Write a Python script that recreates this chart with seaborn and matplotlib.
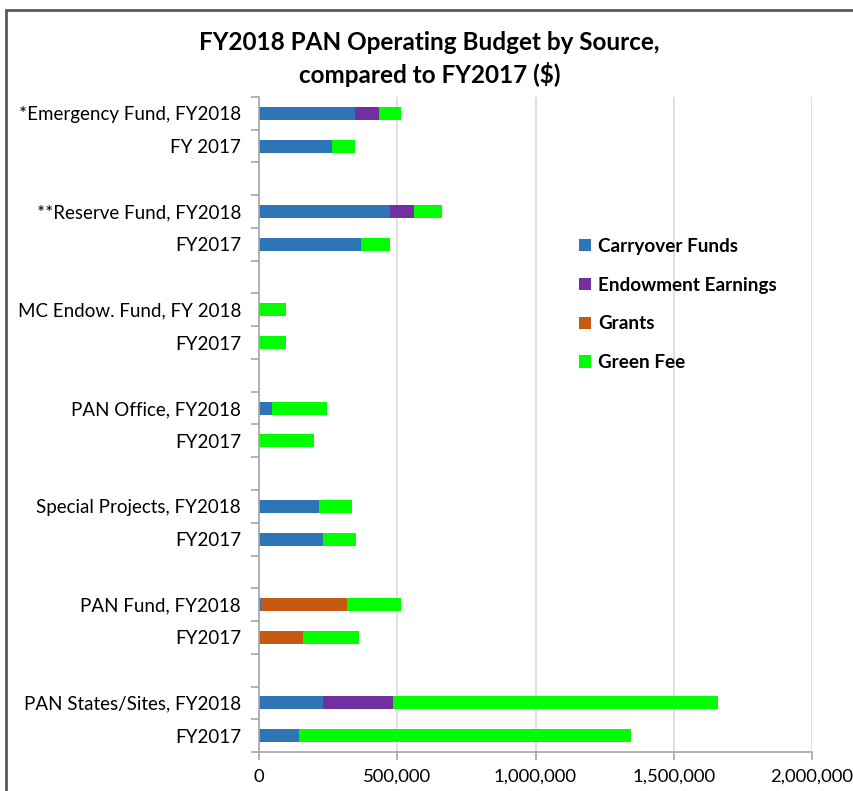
import pandas as pd
import matplotlib
matplotlib.use("Agg")
import matplotlib.pyplot as plt
from matplotlib.patches import Patch, Rectangle
from matplotlib.ticker import FuncFormatter, FixedLocator
import seaborn as sns

# Dados (valores em $)
slots = ["emerg18", "emerg17", "gap1", "res18", "res17", "gap2", "mc18", "mc17", "gap3",
         "off18", "off17", "gap4", "sp18", "sp17", "gap5", "fund18", "fund17", "gap6",
         "st18", "st17"]
y_labels = ["*Emergency Fund, FY2018", "FY 2017", "", "**Reserve Fund, FY2018", "FY2017", "",
            "MC Endow. Fund, FY 2018", "FY2017", "", "PAN Office, FY2018", "FY2017", "",
            "Special Projects, FY2018", "FY2017", "", "PAN Fund, FY2018", "FY2017", "",
            "PAN States/Sites, FY2018", "FY2017"]
bars = ["emerg18", "emerg17", "res18", "res17", "mc18", "mc17", "off18", "off17",
        "sp18", "sp17", "fund18", "fund17", "st18", "st17"]
carryover = [346000, 265000, 473000, 370000, 0, 0, 48000, 0, 218000, 230000, 8000, 0, 230000, 146000]
endowment = [89000, 0, 89000, 0, 0, 0, 0, 0, 0, 0, 0, 0, 255000, 0]
grants = [0, 0, 0, 0, 0, 0, 0, 0, 0, 0, 309000, 160000, 0, 0]
green_fee = [80000, 81000, 99000, 102000, 96000, 99000, 197000, 198000, 120000, 120000, 196000, 200000, 1174000, 1201000]

sources = ["Carryover Funds", "Endowment Earnings", "Grants", "Green Fee"]
cores = ["#2E75B6", "#7030A0", "#C55A11", "#00FF00"]

df = pd.DataFrame({"linha": bars, "Carryover Funds": carryover, "Endowment Earnings": endowment,
                   "Grants": grants, "Green Fee": green_fee}).set_index("linha")
acumulado = df[sources].cumsum(axis=1)

sns.set_style("white")
plt.rcParams["font.family"] = ["Lato", "DejaVu Sans"]
plt.rcParams["text.color"] = "black"

fig = plt.figure(figsize=(8.54, 7.91), dpi=100)
ax = fig.add_axes([259 / 854, 1 - 752 / 791, (812 - 259) / 854, (752 - 97) / 791])

# empilhado: desenha do total para a primeira camada
for fonte, cor in reversed(list(zip(sources, cores))):
    dados = acumulado[fonte].reset_index().rename(columns={fonte: "valor"})
    sns.barplot(data=dados, y="linha", x="valor", order=slots, orient="h", color=cor,
                width=0.4, saturation=1, edgecolor="none", linewidth=0, ax=ax, errorbar=None)

ax.set_xlim(0, 2000000)
ax.set_ylim(len(slots) - 0.5, -0.5)
ax.set_xticks([0, 500000, 1000000, 1500000, 2000000])
ax.xaxis.set_major_formatter(FuncFormatter(lambda v, p: f"{int(v):,}"))
ax.set_yticks(range(len(slots)))
ax.set_yticklabels(y_labels)
ax.yaxis.set_minor_locator(FixedLocator([i - 0.5 for i in range(len(slots) + 1)]))
ax.tick_params(axis="y", which="major", length=0, pad=13, labelsize=13.5, labelcolor="black")
ax.tick_params(axis="y", which="minor", length=6, width=1.2, color="#a6a6a6", left=True)
ax.tick_params(axis="x", which="major", length=6, width=1.2, color="#a6a6a6", bottom=True,
               labelsize=13.3, pad=6, labelcolor="black")
ax.set_xlabel("")
ax.set_ylabel("")

ax.grid(axis="x", color="#d9d9d9", linewidth=1.2)
ax.set_axisbelow(True)
for lado in ["top", "right"]:
    ax.spines[lado].set_visible(False)
for lado in ["left", "bottom"]:
    ax.spines[lado].set_color("#a6a6a6")
    ax.spines[lado].set_linewidth(1.2)

fig.text(0.503, 1 - 59 / 791, "FY2018 PAN Operating Budget by Source,\ncompared to FY2017 ($)",
         ha="center", va="center", fontsize=17.5, fontweight="bold", linespacing=1.35,
         color="black")

handles = [Patch(facecolor=c, edgecolor="none") for c in cores]
leg = ax.legend(handles, sources, loc="upper left", bbox_to_anchor=(562 / 854, 1 - 221 / 791),
                bbox_transform=fig.transFigure, frameon=False, handlelength=0.62, handleheight=0.62,
                handletextpad=0.4, labelspacing=1.15, prop={"weight": "bold", "size": 13.6})
for t in leg.get_texts():
    t.set_color("black")

# borda do grafico
fig.patches.append(Rectangle((6.5 / 854, -0.1), 1.1, 1.1 - 10.5 / 791, transform=fig.transFigure,
                             fill=False, edgecolor="#595959", linewidth=2, clip_on=False))

fig.savefig("out.png", dpi=100)
